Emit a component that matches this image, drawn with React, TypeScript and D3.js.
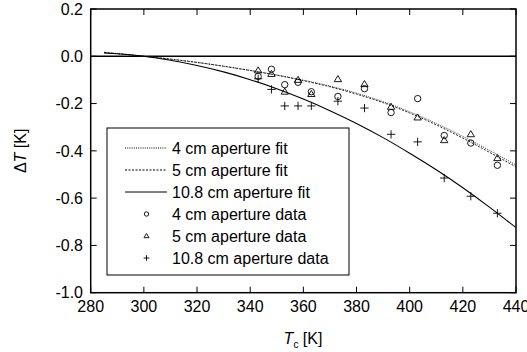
import React from 'react';
import * as d3 from 'd3';

// fit curves, every 10 K
const fitT = [285, 290, 300, 310, 320, 330, 340, 350, 360, 370, 380, 390, 400, 410, 420, 430, 440];
const fit4 = [0.017, 0.012, 0.0, -0.012, -0.026, -0.042, -0.06, -0.079, -0.101, -0.126, -0.156, -0.192, -0.235, -0.284, -0.339, -0.398, -0.46];
const fit5 = [0.016, 0.011, 0.0, -0.012, -0.026, -0.042, -0.06, -0.08, -0.103, -0.129, -0.16, -0.196, -0.24, -0.29, -0.346, -0.406, -0.468];
const fit108 = [0.014, 0.011, 0.0, -0.017, -0.039, -0.066, -0.099, -0.137, -0.181, -0.23, -0.284, -0.344, -0.41, -0.48, -0.556, -0.638, -0.725];

// measured points
const t4 = [343, 348, 353, 358, 363, 373, 383, 393, 403, 413, 423, 433];
const d4 = [-0.085, -0.055, -0.12, -0.11, -0.15, -0.17, -0.137, -0.238, -0.179, -0.335, -0.367, -0.461];
const t5 = [343, 348, 353, 358, 363, 373, 383, 393, 403, 413, 423, 433];
const d5 = [-0.06, -0.075, -0.15, -0.1, -0.16, -0.097, -0.118, -0.214, -0.259, -0.355, -0.33, -0.431];
const t108 = [343, 348, 353, 358, 363, 373, 383, 393, 403, 413, 423, 433];
const d108 = [-0.095, -0.14, -0.21, -0.21, -0.21, -0.19, -0.219, -0.33, -0.362, -0.515, -0.592, -0.664];

const xTicks = [280, 300, 320, 340, 360, 380, 400, 420, 440];
const yTicks = [0.2, 0.0, -0.2, -0.4, -0.6, -0.8, -1.0];

const legendItems = [
  { label: '4 cm aperture fit', kind: 'line', dash: '1,1.2' },
  { label: '5 cm aperture fit', kind: 'line', dash: '2,1.5' },
  { label: '10.8 cm aperture fit', kind: 'line', dash: null },
  { label: '4 cm aperture data', kind: 'circle' },
  { label: '5 cm aperture data', kind: 'triangle' },
  { label: '10.8 cm aperture data', kind: 'plus' },
];

const W = 527;
const H = 352;
const font = 'Arial, "Liberation Sans", Helvetica, sans-serif';

function Marker({ kind, x, y, s }: { kind: string; x: number; y: number; s: number }) {
  if (kind === 'circle') return <circle cx={x} cy={y} r={s} fill="none" stroke="#000" strokeWidth={0.9} />;
  if (kind === 'triangle') {
    const h = s * 1.9;
    const p = `${x},${y - h * 0.6} ${x - s * 1.15},${y + h * 0.4} ${x + s * 1.15},${y + h * 0.4}`;
    return <polygon points={p} fill="none" stroke="#000" strokeWidth={0.9} />;
  }
  return (
    <path d={`M${x - s * 1.3},${y}H${x + s * 1.3}M${x},${y - s * 1.3}V${y + s * 1.3}`} stroke="#000" strokeWidth={0.9} />
  );
}

export default function App() {
  const x = d3.scaleLinear().domain([280, 440]).range([90.7, 516]);
  const y = d3.scaleLinear().domain([-1.0, 0.2]).range([292.7, 9]);

  const line = d3
    .line<[number, number]>()
    .x((d) => x(d[0]))
    .y((d) => y(d[1]))
    .curve(d3.curveMonotoneX);

  const series = (ts: number[], vs: number[]) => ts.map((t, i) => [t, vs[i]] as [number, number]);

  const [x0, x1] = x.range();
  const [y0, y1] = y.range();
  const tick = 6;

  const lgX = 107, lgY = 128, lgW = 242, lgH = 147;
  const rowY = (i: number) => 148 + i * 22;

  return (
    <div style={{ position: 'fixed', left: 0, top: 0 }}>
      <svg width={W} height={H} style={{ display: 'block', background: '#fff' }} fontFamily={font}>
        <defs>
          <clipPath id="plot">
            <rect x={x0} y={y1} width={x1 - x0} height={y0 - y1} />
          </clipPath>
        </defs>

        {/* zero line */}
        <line x1={x0} x2={x1} y1={y(0)} y2={y(0)} stroke="#000" strokeWidth={1.5} />

        {/* fits */}
        <g clipPath="url(#plot)" fill="none">
          <path d={line(series(fitT, fit4)) || ''} stroke="#333" strokeWidth={1} strokeDasharray="1,1.2" />
          <path d={line(series(fitT, fit5)) || ''} stroke="#222" strokeWidth={1} strokeDasharray="2,1.5" />
          <path d={line(series(fitT, fit108)) || ''} stroke="#000" strokeWidth={1.1} />
        </g>

        {/* data */}
        <g>
          {t4.map((t, i) => <Marker key={'c' + i} kind="circle" x={x(t)} y={y(d4[i])} s={3.2} />)}
          {t5.map((t, i) => <Marker key={'t' + i} kind="triangle" x={x(t)} y={y(d5[i])} s={3.2} />)}
          {t108.map((t, i) => <Marker key={'p' + i} kind="plus" x={x(t)} y={y(d108[i])} s={3.2} />)}
        </g>

        {/* frame */}
        <rect x={x0} y={y1} width={x1 - x0} height={y0 - y1} fill="none" stroke="#000" strokeWidth={1.5} />

        {/* x ticks */}
        {xTicks.map((t) => (
          <g key={'xt' + t}>
            <line x1={x(t)} x2={x(t)} y1={y0} y2={y0 - tick} stroke="#000" strokeWidth={1} />
            <line x1={x(t)} x2={x(t)} y1={y1} y2={y1 + tick} stroke="#000" strokeWidth={1} />
            <text x={x(t)} y={y0 + 19} fontSize={16} textAnchor="middle">{t}</text>
          </g>
        ))}

        {/* y ticks */}
        {yTicks.map((t) => (
          <g key={'yt' + t}>
            <line x1={x0} x2={x0 + tick} y1={y(t)} y2={y(t)} stroke="#000" strokeWidth={1} />
            <line x1={x1} x2={x1 - tick} y1={y(t)} y2={y(t)} stroke="#000" strokeWidth={1} />
            <text x={83} y={y(t)} dy="0.36em" fontSize={16} textAnchor="end">{t.toFixed(1)}</text>
          </g>
        ))}

        {/* axis titles */}
        <text x={303} y={344} fontSize={16} textAnchor="middle">
          <tspan fontStyle="italic">T</tspan>
          <tspan fontSize={10} dy={4}>c</tspan>
          <tspan dy={-4}> [K]</tspan>
        </text>
        <text transform={`translate(26,${(y0 + y1) / 2}) rotate(-90)`} fontSize={16} textAnchor="middle">
          <tspan>Δ</tspan>
          <tspan fontStyle="italic">T</tspan>
          <tspan> [K]</tspan>
        </text>

        {/* legend */}
        <rect x={lgX} y={lgY} width={lgW} height={lgH} fill="#fff" stroke="#000" strokeWidth={1} />
        {legendItems.map((it, i) => (
          <g key={'lg' + i}>
            {it.kind === 'line' ? (
              <line x1={125} x2={167} y1={rowY(i)} y2={rowY(i)} stroke="#000" strokeWidth={1} strokeDasharray={it.dash || undefined} />
            ) : (
              <Marker kind={it.kind} x={146.5} y={rowY(i)} s={2.2} />
            )}
            <text x={172} y={rowY(i)} dy="0.36em" fontSize={16}>{it.label}</text>
          </g>
        ))}
      </svg>
    </div>
  );
}
